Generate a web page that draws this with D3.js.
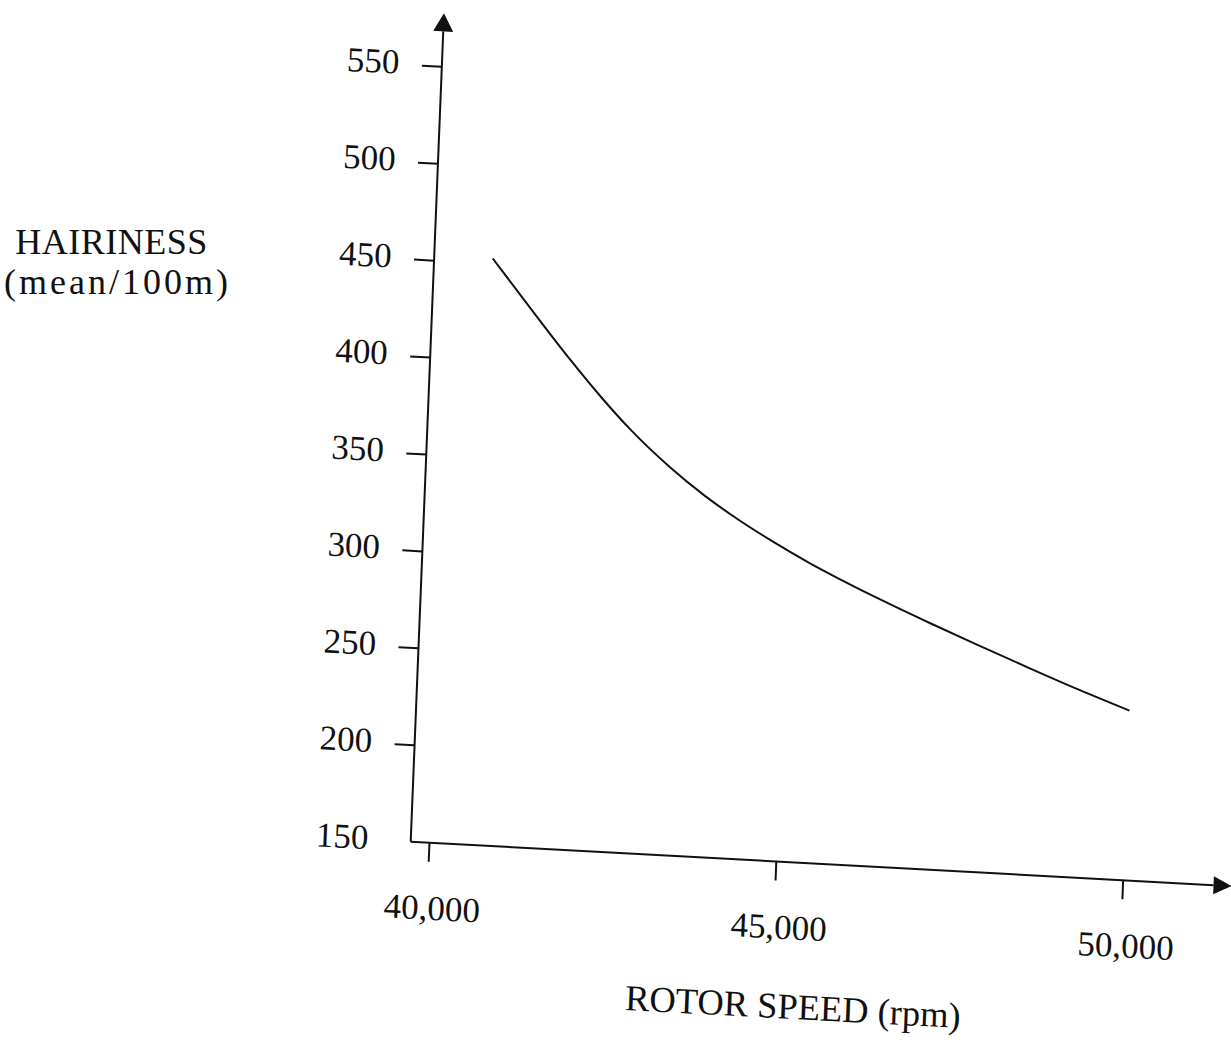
<!DOCTYPE html>
<html>
<head>
<meta charset="utf-8">
<script src="https://cdn.jsdelivr.net/npm/d3@7"></script>
<style>
  html, body { margin: 0; padding: 0; background: #fff; }
  svg { display: block; }
  text { font-family: "Liberation Serif", "Times New Roman", serif; fill: #111; }
</style>
</head>
<body>
<svg id="chart" width="1231" height="1045"></svg>
<script>
// Hairiness (mean per 100 m) against rotor speed (rpm)
const rpm = [40580, 41250, 41750, 42250, 42650, 43250, 43750, 44250, 44750,
             45300, 45600, 46350, 47100, 47800, 48550, 49250, 50000];
const hairiness = [452.5, 423.7, 402.7, 383.0, 368.6, 350.0, 336.7, 325.2, 315.0,
                   304.8, 299.7, 287.8, 276.7, 266.8, 256.4, 247.0, 237.5];
const yTickValues = [150, 200, 250, 300, 350, 400, 450, 500, 550];
const xTickValues = [40000, 45000, 50000];

const W = 1231, H = 1045;
const ink = "#111";
const svg = d3.select("#chart");
svg.append("rect").attr("width", W).attr("height", H).attr("fill", "#fff");

// Plot frame: corner of the axes, and the small tilt of each axis on the sheet
const origin = { x: 410.7, y: 841.7 };
const tiltX = 3.1 * Math.PI / 180;
const tiltY = 2.3 * Math.PI / 180;
const g = svg.append("g")
  .attr("transform",
    `matrix(${Math.cos(tiltX)},${Math.sin(tiltX)},${-Math.sin(tiltY)},${Math.cos(tiltY)},${origin.x},${origin.y})`);

const x = d3.scaleLinear().domain([40000, 50000]).range([18.3, 713]);
const y = d3.scaleLinear().domain([150, 550]).range([0, -776]);

// Axis lines with filled arrow heads
const yEnd = -829, xEnd = 822, headLen = 18;
g.append("line").attr("x1", 0).attr("y1", 0).attr("x2", 0).attr("y2", yEnd + headLen)
  .attr("stroke", ink).attr("stroke-width", 2);
g.append("path")
  .attr("d", `M0,${yEnd} L-10,${yEnd + headLen} L10,${yEnd + headLen} Z`)
  .attr("fill", ink);
g.append("line").attr("x1", 0).attr("y1", 0).attr("x2", xEnd - headLen).attr("y2", 0)
  .attr("stroke", ink).attr("stroke-width", 2);
g.append("path")
  .attr("d", `M${xEnd},0 L${xEnd - headLen},-9 L${xEnd - headLen},9 Z`)
  .attr("fill", ink);

// Y axis ticks and labels
const yAxis = d3.axisLeft(y)
  .tickValues(yTickValues)
  .tickSize(20)
  .tickPadding(22.5)
  .tickSizeOuter(0);
const gy = g.append("g").call(yAxis);
gy.select(".domain").remove();
gy.selectAll(".tick line").attr("stroke", ink).attr("stroke-width", 2);
gy.selectAll(".tick").filter(d => d === 150).select("line").remove();
gy.selectAll(".tick text")
  .attr("font-size", 35)
  .attr("fill", ink)
  .attr("y", -2);

// X axis ticks and labels
const xAxis = d3.axisBottom(x)
  .tickValues(xTickValues)
  .tickSize(19)
  .tickFormat(d3.format(","))
  .tickSizeOuter(0);
const gx = g.append("g").call(xAxis);
gx.select(".domain").remove();
gx.selectAll(".tick line").attr("stroke", ink).attr("stroke-width", 2);
gx.selectAll(".tick text")
  .attr("font-size", 35)
  .attr("fill", ink)
  .attr("x", 5)
  .attr("y", 77)
  .attr("dy", 0);

// Hairiness curve
const line = d3.line()
  .x((d, i) => x(rpm[i]))
  .y(d => y(d))
  .curve(d3.curveMonotoneX);
g.append("path")
  .datum(hairiness)
  .attr("d", line)
  .attr("fill", "none")
  .attr("stroke", ink)
  .attr("stroke-width", 2);

// X axis title
g.append("text")
  .attr("x", 388.6)
  .attr("y", 156.4)
  .attr("text-anchor", "middle")
  .attr("font-size", 36.5)
  .text("ROTOR SPEED (rpm)");

// Y axis title, set level on the page
const yTitle = svg.append("g");
yTitle.append("text")
  .attr("x", 111.5).attr("y", 253.5)
  .attr("text-anchor", "middle")
  .attr("font-size", 36)
  .attr("letter-spacing", 0.5)
  .text("HAIRINESS");
yTitle.append("text")
  .attr("x", 117.5).attr("y", 293.5)
  .attr("text-anchor", "middle")
  .attr("font-size", 36)
  .attr("letter-spacing", 3)
  .text("(mean/100m)");
</script>
</body>
</html>
